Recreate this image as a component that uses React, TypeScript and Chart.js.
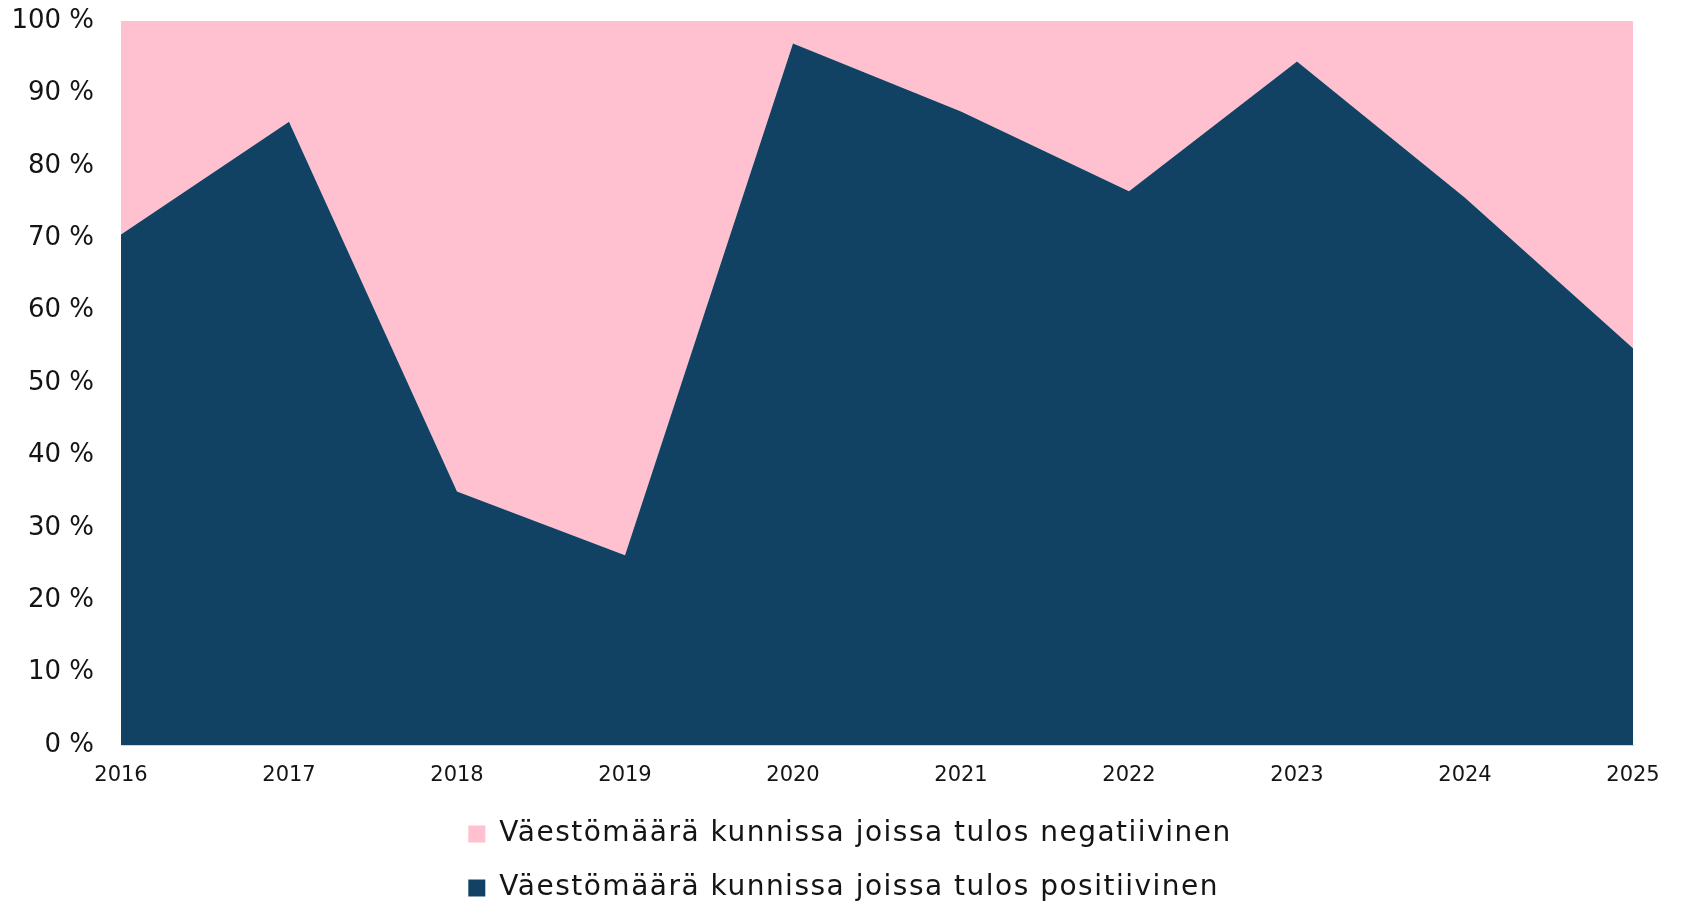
import { useEffect, useRef } from 'react';
import { Chart, registerables } from 'chart.js';

Chart.register(...registerables);

const years = ['2016', '2017', '2018', '2019', '2020', '2021', '2022', '2023', '2024', '2025'];
const positiveShare = [70.5, 86.1, 35.0, 26.2, 96.9, 87.5, 76.5, 94.4, 75.6, 54.8];
const negativeShare = [29.5, 13.9, 65.0, 73.8, 3.1, 12.5, 23.5, 5.6, 24.4, 45.2];
const labelPositive = 'Väestömäärä kunnissa joissa tulos positiivinen';
const labelNegative = 'Väestömäärä kunnissa joissa tulos negatiivinen';

const NAVY = '#124263';
const PINK = '#FFC0CF';
const TEXT = '#141414';
const FONT = '"DejaVu Sans", sans-serif';

export default function App() {
  const ref = useRef<HTMLCanvasElement>(null);

  useEffect(() => {
    if (!ref.current) return;
    const prevOverflow = document.documentElement.style.overflow;
    document.documentElement.style.overflow = 'hidden';
    const legendWrap = {
      id: 'legendWrap',
      afterInit(chart: any) {
        const lg = chart.legend;
        if (!lg) return;
        const origUpdate = lg.update;
        lg.update = function (mw: number, mh: number, m: any) {
          return origUpdate.call(this, Math.min(mw, 900), mh, m);
        };
        const spaced = (name: string, after?: (self: any) => void) => {
          const o = lg[name];
          lg[name] = function (...args: any[]) {
            const c: any = this.ctx;
            const prev = c.letterSpacing;
            c.letterSpacing = '1.5px';
            try {
              const r = o.apply(this, args);
              if (after) after(this);
              return r;
            } finally {
              c.letterSpacing = prev || '0px';
            }
          };
        };
        // both legend rows share one left edge, block nudged slightly right
        spaced('fit', (self: any) => {
          if (Array.isArray(self.lineWidths) && self.lineWidths.length) {
            const m = Math.max(...self.lineWidths) - 12;
            self.lineWidths = self.lineWidths.map(() => m);
          }
        });
        spaced('draw');
      },
    };
    const chart = new Chart(ref.current, {
      type: 'line',
      data: {
        labels: years,
        datasets: [
          {
            label: labelPositive,
            data: positiveShare,
            backgroundColor: NAVY,
            borderColor: 'rgba(0,0,0,0)',
            borderWidth: 0,
            fill: 'origin',
            pointRadius: 0,
            pointHoverRadius: 0,
            tension: 0,
          },
          {
            label: labelNegative,
            data: negativeShare,
            backgroundColor: PINK,
            borderColor: 'rgba(0,0,0,0)',
            borderWidth: 0,
            fill: '-1',
            pointRadius: 0,
            pointHoverRadius: 0,
            tension: 0,
          },
        ],
      },
      options: {
        responsive: true,
        maintainAspectRatio: false,
        animation: false,
        layout: { padding: { left: 0, right: 0, top: 0, bottom: 0 } },
        plugins: {
          tooltip: { enabled: false },
          legend: {
            position: 'bottom',
            reverse: true,
            labels: {
              color: TEXT,
              font: { family: FONT, size: 28 },
              boxWidth: 17,
              boxHeight: 17,
              padding: 26,
            },
          },
        },
        scales: {
          x: {
            offset: false,
            grid: { display: false, drawTicks: false },
            border: { display: true, color: '#d0d5dc' },
            ticks: {
              color: TEXT,
              font: { family: FONT, size: 21, lineHeight: 31 / 21 },
              padding: 15,
              maxRotation: 0,
              autoSkip: false,
            },
            afterFit: (s: any) => {
              s.paddingRight = 47;
              s.height = 49;
            },
          },
          y: {
            stacked: true,
            min: 0,
            max: 100,
            grid: { display: true, color: '#d9d9d9', drawTicks: false },
            border: { display: true, color: '#d9d9d9' },
            ticks: {
              stepSize: 10,
              color: TEXT,
              font: { family: FONT, size: 26, lineHeight: 1 },
              padding: 27,
              callback: (v: any) => v + ' %',
            },
            afterFit: (s: any) => {
              s.width = 113;
              s.paddingTop = 13;
              s.paddingBottom = 0;
            },
          },
        },
      },
      plugins: [legendWrap],
    } as any);
    return () => {
      chart.destroy();
      document.documentElement.style.overflow = prevOverflow;
    };
  }, []);

  return (
    <div style={{ position: 'relative', width: '100%', height: 904, marginBottom: -11 }}>
      <canvas ref={ref} />
    </div>
  );
}
